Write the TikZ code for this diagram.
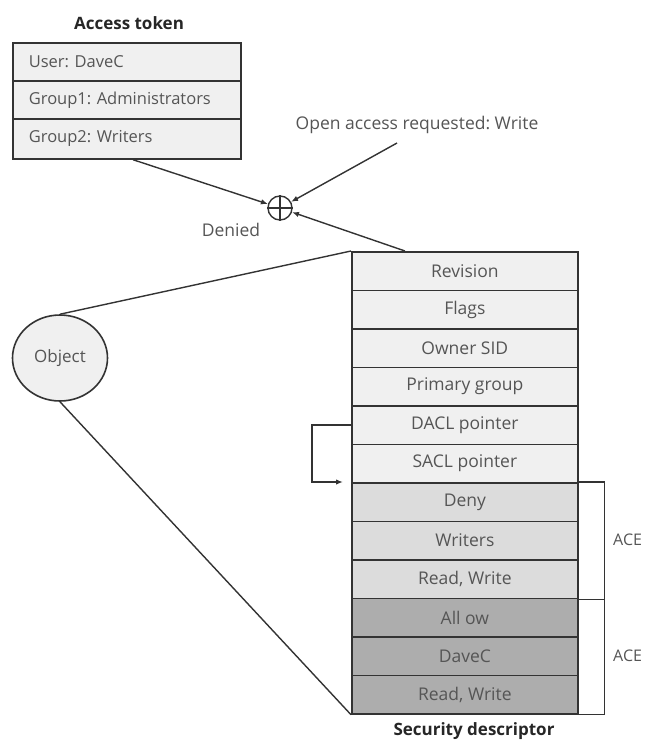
\documentclass[tikz,border=0pt]{standalone}
\usepackage{fontspec}
\setmainfont{Open Sans}
\usetikzlibrary{arrows.meta,calc,shapes.geometric}
\definecolor{txt}{HTML}{555555}
\definecolor{lite}{HTML}{F0F0F0}
\definecolor{midg}{HTML}{DCDCDC}
\definecolor{darkg}{HTML}{ADADAD}
\definecolor{ln}{HTML}{333333}
\begin{document}
\frenchspacing
\begin{tikzpicture}[x=1pt,y=-1pt,
  cell/.style={draw=ln, line width=1.7pt, minimum width=226pt, minimum height=38.5pt,
    inner sep=0pt, text=txt, font=\fontsize{17.5}{19}\selectfont, anchor=north west},
  tokcell/.style={cell, minimum width=228pt, minimum height=38pt, text width=196pt,
    inner xsep=16pt, align=left, fill=lite, font=\fontsize{16.5}{18}\selectfont},
  arr/.style={draw=ln, line width=1.4pt, -{Latex[length=7pt,width=5.5pt]}},
  plain/.style={draw=ln, line width=1.4pt},
  lbl/.style={text=txt, font=\fontsize{17.5}{19}\selectfont, inner sep=0pt},
  ttl/.style={text=black!85, font=\fontsize{17}{19}\selectfont\bfseries, inner sep=0pt}]
\useasboundingbox (0,0) rectangle (645,742);
\clip (0,0) rectangle (645,742);

% Access token
\node[ttl] (tt) at (129,23) {Access token};
\node[tokcell] (t1) at (12,42) {User: DaveC};
\node[tokcell] (t2) at (12,80) {Group1: Administrators};
\node[tokcell, minimum height=40pt] (t3) at (12,118) {Group2: Writers};

% combine operator
\node[circle, draw=ln, line width=1.4pt, minimum size=24pt, inner sep=0pt] (op) at (280,208) {};
\draw[plain, line width=1.1pt] (op.north) -- (op.south) (op.west) -- (op.east);
\node[lbl] (den) at (231,230) {Denied};
\node[lbl] (req) at (417,125) {Open access requested: Write};
\coordinate (rq) at (397,143);

% Security descriptor
\node[cell, fill=lite] (r1) at (351,251) {Revision};
\node[cell, fill=lite] (r2) at (351,289.5) {Flags};
\node[cell, fill=lite] (r3) at (351,328) {Owner SID};
\node[cell, fill=lite] (r4) at (351,366.5) {Primary group};
\node[cell, fill=lite] (r5) at (351,405) {DACL pointer};
\node[cell, fill=lite] (r6) at (351,443.5) {SACL pointer};
\node[cell, fill=midg] (r7) at (351,482) {Deny};
\node[cell, fill=midg] (r8) at (351,520.5) {Writers};
\node[cell, fill=midg] (r9) at (351,559) {Read, Write};
\node[cell, fill=darkg] (r10) at (351,597.5) {All ow};
\node[cell, fill=darkg] (r11) at (351,636) {DaveC};
\node[cell, fill=darkg] (r12) at (351,674.5) {Read, Write};
\node[ttl] (st) at (474,731) {Security descriptor};

% arrows to operator
\draw[arr] ($(t3.south west)+(121,0)$) -- (op);
\draw[arr] (rq) -- (op);
\draw[arr] ($(r1.north west)+(54,0)$) -- (op);

% Object
\node[ellipse, draw=ln, line width=1.6pt, fill=lite, minimum width=95pt, minimum height=86pt,
  text=txt, font=\fontsize{17}{19}\selectfont] (obj) at (60,358) {Object};
\draw[plain] (obj.north) -- (r1.north west);
\draw[plain] (obj.south) -- (r12.south west);

% DACL pointer
\draw[arr] (r5.west) -- ($(r5.west)+(-39,0)$) |- ($(r7.north west)+(-8,0)$);

% ACE brackets
\draw[plain, line width=1.2pt] (r7.north east) -- ++(26,0) |- (r9.south east);
\draw[plain, line width=1.2pt] (r10.north east) ++(26,0) |- (r12.south east);
\node[lbl, anchor=west, font=\fontsize{16}{18}\selectfont] (ace1) at (613,540) {ACE};
\node[lbl, anchor=west, font=\fontsize{16}{18}\selectfont] (ace2) at (613,656) {ACE};
\end{tikzpicture}
\end{document}
